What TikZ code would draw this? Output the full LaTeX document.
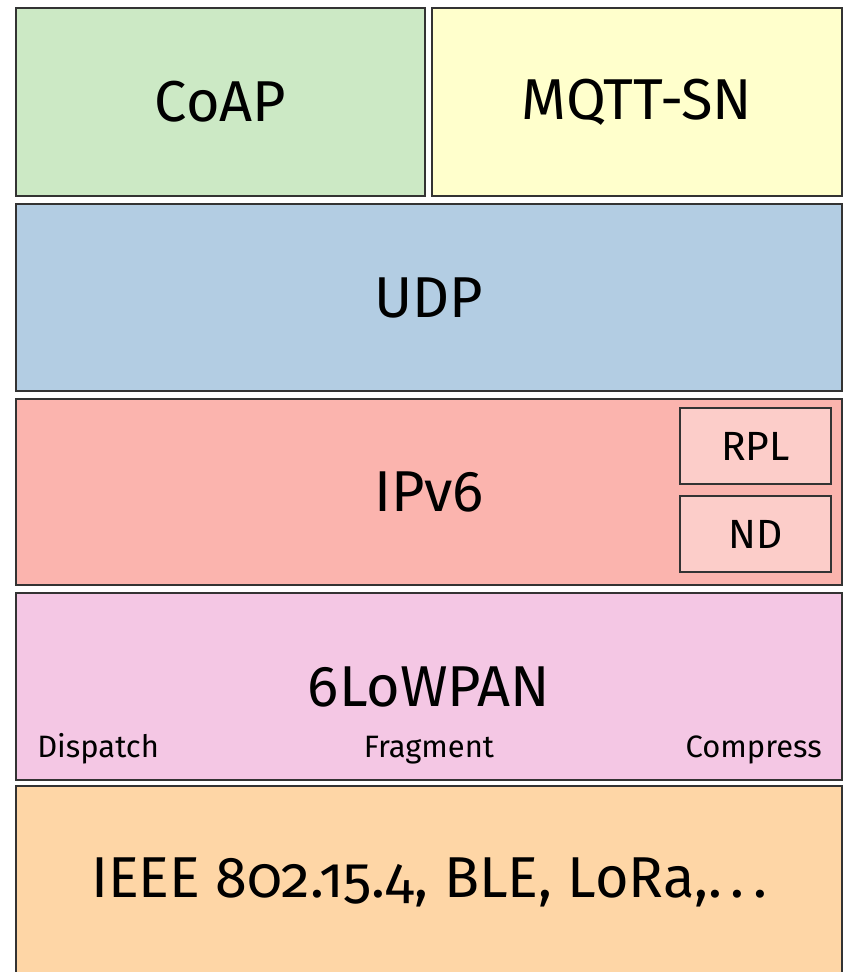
\documentclass[tikz,border=0pt]{standalone}
\usepackage{fontspec}
\setmainfont[Numbers=OldStyle]{Fira Sans}
\usepackage{tikz}

\definecolor{coapgreen}{HTML}{CCE9C5}
\definecolor{mqttyellow}{HTML}{FFFFCC}
\definecolor{udpblue}{HTML}{B3CDE3}
\definecolor{ipred}{HTML}{FBB4AE}
\definecolor{subred}{HTML}{FCCDC9}
\definecolor{lowpanpink}{HTML}{F4C7E4}
\definecolor{phyorange}{HTML}{FED6A6}

\tikzset{
    layer/.style={draw=black!80, line width=1.4pt, inner sep=0pt, font=\fontsize{41}{49}\selectfont},
    sublayer/.style={draw=black!80, line width=1.2pt, inner sep=0pt, fill=subred, font=\fontsize{29}{35}\selectfont},
    feature/.style={inner sep=0pt, font=\fontsize{22}{27}\selectfont}
}

\begin{document}
\begin{tikzpicture}
    \clip (0, 0) rectangle (21.1, -24.3);

    \node[layer, fill=coapgreen, minimum width=10.225cm, minimum height=4.7cm] (coap) at (5.5125, -2.55) {CoAP};
    \node[layer, fill=mqttyellow, minimum width=10.25cm, minimum height=4.7cm] (mqtt) at (15.925, -2.55) {MQTT-SN};

    \node[layer, fill=udpblue, minimum width=20.65cm, minimum height=4.675cm] (udp) at (10.725, -7.4375) {UDP};

    \node[layer, fill=ipred, minimum width=20.65cm, minimum height=4.65cm] (ipv6) at (10.725, -12.3) {IPv6};
    \node[sublayer, minimum width=3.775cm, minimum height=1.9cm] (rpl) at (18.8875, -11.15) {RPL};
    \node[sublayer, minimum width=3.775cm, minimum height=1.9cm] (nd) at (18.8875, -13.35) {ND};

    \node[layer, fill=lowpanpink, minimum width=20.65cm, minimum height=4.675cm] (lowpan) at (10.725, -17.1625) {6LoWPAN};
    \node[feature, anchor=base west] (dispatch) at (0.925, -18.925) {Dispatch};
    \node[feature, anchor=base] (fragment) at (10.725, -18.925) {Fragment};
    \node[feature, anchor=base east] (compress) at (20.55, -18.925) {Compress};

    \node[layer, fill=phyorange, minimum width=20.65cm, minimum height=4.8cm] (phy) at (10.725, -22.05) {IEEE 802.15.4, BLE, LoRa,.\kern.15em.\kern.15em.};
\end{tikzpicture}
\end{document}
